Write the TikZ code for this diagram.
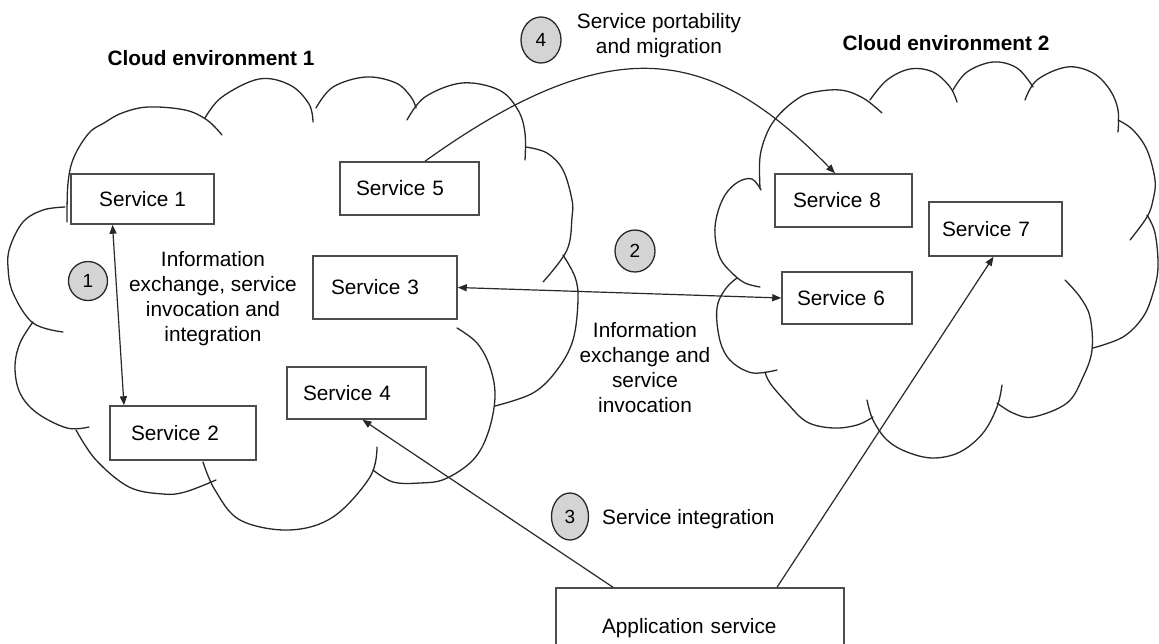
\documentclass[tikz,border=0pt]{standalone}
\usepackage{fontspec}
\setmainfont{Liberation Sans}
\usetikzlibrary{arrows.meta,shapes.geometric}
\definecolor{numgray}{RGB}{212,212,212}
\definecolor{inkc}{RGB}{40,40,40}
\begin{document}
\begin{tikzpicture}[x=1pt,y=-1pt,
  every node/.style={font=\fontsize{20.8}{25}\selectfont, text=black},
  cl/.style={line width=1.3pt, draw=inkc, line cap=round},
  ln/.style={line width=1.2pt, draw=inkc},
  svc/.style={draw=black!70, line width=1.5pt, inner sep=0pt, align=left},
  num/.style={ellipse, draw=inkc, line width=1.3pt, fill=numgray, inner sep=0pt,
    font=\fontsize{19}{22}\selectfont},
  lbl/.style={align=center, anchor=base, inner sep=0pt},
  hd/.style={anchor=base, inner sep=0pt, font=\fontsize{20.8}{25}\selectfont\bfseries},
  tipend/.style={-{Triangle[length=9pt,width=7pt]}},
  tipboth/.style={{Triangle[length=9pt,width=7pt]}-{Triangle[length=9pt,width=7pt]}}
]
\useasboundingbox (0,0) rectangle (1159,643);
\clip (0,0) rectangle (1159,643);
\fill[white] (0,0) rectangle (1159,643);

% ---------- Cloud 1 ----------
\draw[cl] plot[smooth, tension=0.6] coordinates {(67,222) (68,183) (74,157) (89,133) (104,123) (122,113) (148,107) (185,110) (207,120) (222,135)};
\draw[cl] plot[smooth, tension=0.6] coordinates {(205,118) (222,97) (259,79) (290,85) (309,104) (313,122)};
\draw[cl] plot[smooth, tension=0.6] coordinates {(316,108) (333,87) (366,77) (396,83) (411,97) (416,108)};
\draw[cl] plot[smooth, tension=0.6] coordinates {(407,120) (425,97) (462,83) (499,90) (518,110) (525,133) (525,160)};
\draw[cl] plot[smooth, tension=0.6] coordinates {(526,147) (547,153) (563,170) (572,200) (572,217) (567,250) (543,282)};
\draw[cl] plot[smooth, tension=0.6] coordinates {(563,255) (575,277) (578,300) (573,340) (557,370) (533,393) (495,406)};
\draw[cl] plot[smooth, tension=0.6] coordinates {(457,328) (477,343) (490,367) (495,397) (488,433) (473,460) (445,479) (420,483) (393,482) (373,470)};
\draw[cl] plot[smooth, tension=0.6] coordinates {(377,447) (370,477) (333,517) (289,530) (240,520) (215,490) (203,462)};
\draw[cl] plot[smooth, tension=0.6] coordinates {(216,480) (185,492) (163,494) (129,487) (96,460) (76,430)};
\draw[cl] plot[smooth, tension=0.6] coordinates {(89,427) (67,428) (37,413) (20,393) (15,367) (20,343) (33,322)};
\draw[cl] plot[smooth, tension=0.6] coordinates {(65,207) (43,210) (23,222) (10,247) (8,267) (13,293) (33,323) (63,332)};

% ---------- Cloud 2 ----------
\draw[cl] plot[smooth, tension=0.6] coordinates {(761,190) (752,179) (738,182) (725,195) (717,215) (715,235) (720,258) (732,273) (745,283) (760,287)};
\draw[cl] plot[smooth, tension=0.6] coordinates {(760,188) (760,157) (767,133) (777,117) (793,102) (810,93) (840,90) (863,98) (882,113)};
\draw[cl] plot[smooth, tension=0.6] coordinates {(870,100) (887,80) (910,69) (933,72) (950,87) (957,102)};
\draw[cl] plot[smooth, tension=0.6] coordinates {(953,90) (967,72) (993,62) (1017,68) (1033,87)};
\draw[cl] plot[smooth, tension=0.6] coordinates {(1025,100) (1037,80) (1067,67) (1093,73) (1110,90) (1118,110) (1118,132)};
\draw[cl] plot[smooth, tension=0.6] coordinates {(1118,120) (1133,130) (1147,150) (1155,180) (1153,200) (1147,217) (1130,240)};
\draw[cl] plot[smooth, tension=0.6] coordinates {(1147,215) (1155,233) (1158,267) (1153,293) (1143,317) (1123,337) (1093,348)};
\draw[cl] plot[smooth, tension=0.6] coordinates {(1065,280) (1080,297) (1090,317) (1092,350) (1083,377) (1067,403) (1033,417) (1013,413) (997,403)};
\draw[cl] plot[smooth, tension=0.6] coordinates {(1002,385) (997,407) (983,433) (960,452) (933,458) (907,452) (887,440) (873,420) (867,400)};
\draw[cl] plot[smooth, tension=0.6] coordinates {(873,417) (857,425) (833,428) (807,422) (787,403) (770,383) (765,372)};
\draw[cl] plot[smooth, tension=0.6] coordinates {(777,370) (753,373) (733,363) (722,347) (717,323) (718,303) (727,287) (737,278)};

% ---------- Service boxes ----------
\node[svc, align=center, minimum width=143pt, minimum height=50pt] (s1) at (142.5,199) {Service 1};
\node[svc, minimum width=139pt, minimum height=53pt, inner xsep=16pt, text width=107pt] (s5) at (409.5,188.5) {Service 5};
\node[svc, minimum width=144pt, minimum height=63pt, inner xsep=18pt, text width=108pt] (s3) at (385,287.5) {Service 3};
\node[svc, minimum width=139pt, minimum height=52pt, inner xsep=16pt, text width=107pt] (s4) at (356.5,393) {Service 4};
\node[svc, minimum width=146pt, minimum height=54pt, inner xsep=21pt, text width=104pt] (s2) at (183,433) {Service 2};
\node[svc, minimum width=137pt, minimum height=53pt, inner xsep=18pt, text width=101pt] (s8) at (843.5,200.5) {Service 8};
\node[svc, minimum width=133pt, minimum height=54pt, inner xsep=13pt, text width=107pt] (s7) at (995.5,229) {Service 7};
\node[svc, minimum width=130pt, minimum height=52pt, inner xsep=15pt, text width=100pt] (s6) at (847,298) {Service 6};
\node[svc, minimum width=288pt, minimum height=80pt, inner xsep=46pt, text width=196pt] (app) at (700,628) {Application service};

% ---------- Numbered markers ----------
\node[num, minimum width=39pt, minimum height=39pt] (n1) at (88,281) {1};
\node[num, minimum width=40pt, minimum height=42pt] (n2) at (635,251) {2};
\node[num, minimum width=37pt, minimum height=47pt] (n3) at (570,516.5) {3};
\node[num, minimum width=40pt, minimum height=46pt] (n4) at (541,40) {4};

% ---------- Labels (base = baseline of last line) ----------
\node[hd] (h1) at (211,65) {Cloud environment 1};
\node[hd] (h2) at (946,50) {Cloud environment 2};
\node[lbl] (l4) at (659,53) {Service portability\\and migration};
\node[lbl] (l1) at (213,341) {Information\\exchange, service\\invocation and\\integration};
\node[lbl] (l2) at (645,412) {Information\\exchange and\\service\\invocation};
\node[anchor=base west, inner sep=0pt] (l3) at (602,524) {Service integration};

% ---------- Connectors ----------
\draw[ln, tipboth] ([xshift=-30pt]s1.south) -- ([xshift=-59pt]s2.north);
\draw[ln, tipboth] (s3.east) -- (s6.west);
\draw[ln, tipend] ([xshift=-87pt]app.north) -- ([xshift=6pt]s4.south);
\draw[ln, tipend] ([xshift=77pt]app.north) -- ([xshift=-2pt]s7.south);
\draw[ln, tipend] ([xshift=15.5pt]s5.north) .. controls (619,22) and (716,52) .. ([xshift=-8.5pt]s8.north);
\end{tikzpicture}
\end{document}
